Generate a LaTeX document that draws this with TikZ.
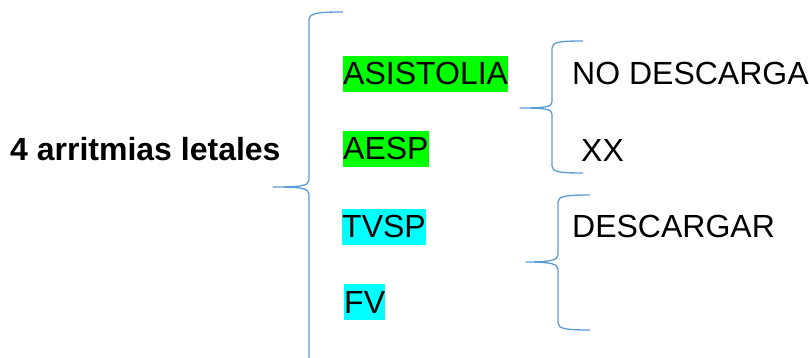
\documentclass[tikz,border=0pt]{standalone}
\usepackage{fontspec}
\setmainfont{Liberation Sans}
\definecolor{bracecol}{HTML}{5B9BD5}
\definecolor{hlgreen}{HTML}{00FF00}
\definecolor{hlcyan}{HTML}{00FFFF}
\tikzset{
  lbl/.style={anchor=base west, inner sep=0pt, font=\fontsize{32}{38}\selectfont},
  hl/.style={lbl, text height=29pt, text depth=7pt, fill=#1},
  brace/.style={draw=bracecol, line width=1.3pt, line join=round}
}
\begin{document}
\begin{tikzpicture}[x=1pt,y=-1pt]
\useasboundingbox (0,0) rectangle (809,358);

% title on the left
\node[lbl, font=\fontsize{32}{38}\selectfont\bfseries] (title) at (10,161) {4 arritmias letales};

% the four rhythms
\node[hl=hlgreen] (asis) at (343,85) {ASISTOLIA};
\node[hl=hlgreen] (aesp) at (343,160) {AESP};
\node[hl=hlcyan]  (tvsp) at (342,238) {TVSP};
\node[hl=hlcyan]  (fv)   at (344,313) {FV};

% right-hand labels
\node[lbl] (nodesc) at (572,85) {NO DESCARGA};
\node[lbl] (xx)     at (581,162) {XX};
\node[lbl] (desc)   at (572,238) {DESCARGAR};

% large brace grouping all rhythms
\path[brace] (343,12) .. controls (318,12) and (309,13) .. (309,20)
  -- (309,180) .. controls (309,186) and (300,187) .. (273,187)
  .. controls (300,187) and (309,188) .. (309,194) -- (309,358);

% brace: non-shockable
\path[brace] (583,41) .. controls (560,41) and (552,42) .. (552,48)
  -- (552,102) .. controls (552,107) and (545,108) .. (520,108)
  .. controls (545,108) and (552,109) .. (552,114)
  -- (552,166) .. controls (552,172) and (560,173) .. (583,173);

% brace: shockable
\path[brace] (590,195) .. controls (567,195) and (558,196) .. (558,202)
  -- (558,255) .. controls (558,260) and (551,262) .. (526,262)
  .. controls (551,262) and (558,264) .. (558,269)
  -- (558,323) .. controls (558,329) and (567,330) .. (590,330);
\end{tikzpicture}
\end{document}
